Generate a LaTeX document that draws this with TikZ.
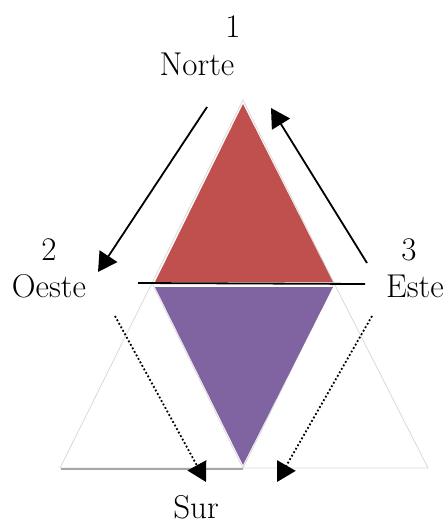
\documentclass[tikz,border=0pt]{standalone}
\usetikzlibrary{arrows.meta}
\definecolor{tred}{HTML}{C0504D}
\definecolor{tpurple}{HTML}{8064A2}
\definecolor{faint}{HTML}{D9D9D9}
\begin{document}
\begin{tikzpicture}[x=1pt,y=-1pt,
  lbl/.style={font=\fontsize{33}{38}\selectfont, inner sep=0pt, anchor=base},
  outline/.style={draw=faint, line width=0.8pt},
  solidarrow/.style={line width=1.8pt, -{Triangle[length=19pt,width=21pt]}},
  dotarrow/.style={line width=1.8pt, dash pattern=on 1.8pt off 2.2pt, -{Triangle[length=19pt,width=21pt]}}]
\useasboundingbox (0,0) rectangle (446,525);
% outline triangles
\draw[outline] (243,100) -- (334,283) -- (152,283) -- cycle;
\draw[outline] (152,283) -- (243,468) -- (60,468) -- cycle;
\draw[outline] (334,283) -- (428,468) -- (243,468) -- cycle;
\draw[gray!70, line width=1.6pt] (61,469) -- (243,469);
% filled triangles
\fill[tred] (243,104) -- (333,282) -- (155,282) -- cycle;
\fill[tpurple] (155,287) -- (333,287) -- (243,465) -- cycle;
% horizontal line
\draw[line width=1.8pt] (138,283) -- (365,284);
% labels
\node[lbl] (n1) at (233,37) {1};
\node[lbl] (norte) at (197,75) {Norte};
\node[lbl] (n2) at (49,260) {2};
\node[lbl] (oeste) at (49,297) {Oeste};
\node[lbl] (n3) at (409,260) {3};
\node[lbl] (este) at (415,297) {Este};
\node[lbl] (sur) at (196,518) {Sur};
% arrow end points
\coordinate (a1s) at (207,107);
\coordinate (a1e) at (98,272);
\coordinate (a2s) at (367,263);
\coordinate (a2e) at (271,108);
\coordinate (a3s) at (115,316);
\coordinate (a3e) at (206,482);
\coordinate (a4s) at (372,316);
\coordinate (a4e) at (277,482);
\draw[solidarrow] (a1s) -- (a1e);
\draw[solidarrow] (a2s) -- (a2e);
\draw[dotarrow] (a3s) -- (a3e);
\draw[dotarrow] (a4s) -- (a4e);
\end{tikzpicture}
\end{document}
